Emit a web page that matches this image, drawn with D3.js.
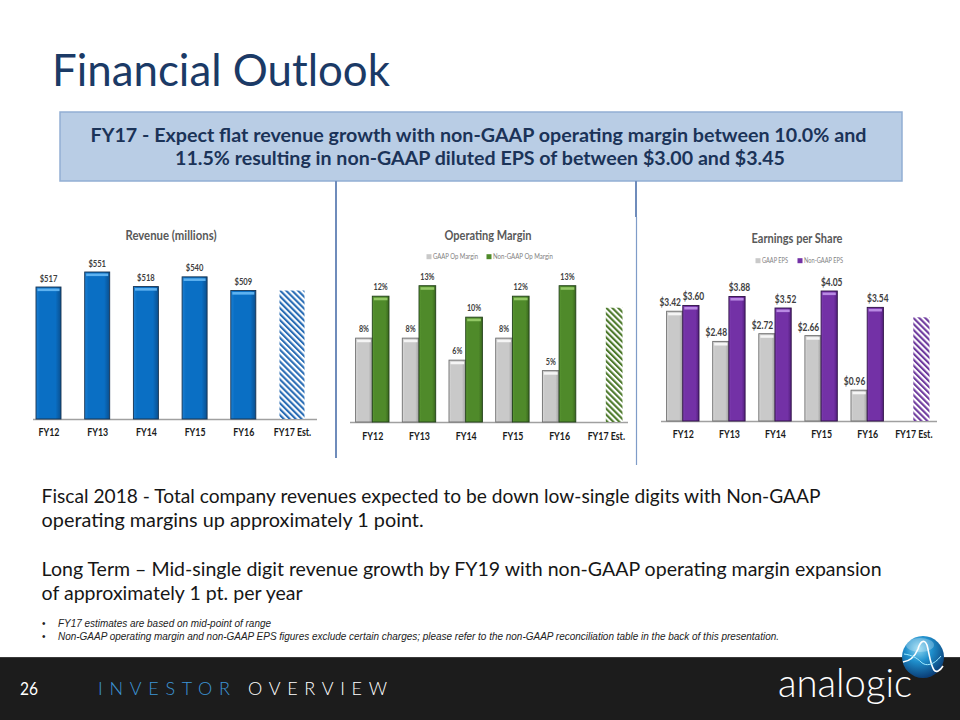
<!DOCTYPE html>
<html><head><meta charset="utf-8">
<script src="https://cdn.jsdelivr.net/npm/d3@7"></script>
<style>body{margin:0;background:#fff}svg{display:block}</style>
</head><body>
<svg id="c" width="960" height="720"></svg>
<script>
// ---------------- DATA ----------------
const years = ["FY12","FY13","FY14","FY15","FY16","FY17 Est."];
const revenue = [517,551,518,540,509];
const revenueEst = 509;
const gaapOpMargin = [8.0,8.0,5.9,8.0,4.9];
const nonGaapOpMargin = [12.0,13.0,10.0,12.0,13.0];
const opMarginEst = 10.9;
const gaapEps = [3.42,2.48,2.72,2.66,0.96];
const nonGaapEps = [3.60,3.88,3.52,4.05,3.54];
const epsEst = 3.23;
const titleText = "Financial Outlook";
const headline = ["FY17 - Expect flat revenue growth with non-GAAP operating margin between 10.0% and",
                  "11.5% resulting in non-GAAP diluted EPS of between $3.00 and $3.45"];
const bodyLines = ["Fiscal 2018 - Total company revenues expected to be down low-single digits with Non-GAAP",
                   "operating margins up approximately 1 point.",
                   "Long Term \u2013 Mid-single digit revenue growth by FY19 with non-GAAP operating margin expansion",
                   "of approximately 1 pt. per year"];
const footnotes = ["FY17 estimates are based on mid-point of range",
                   "Non-GAAP operating margin and non-GAAP EPS figures exclude certain charges; please refer to the non-GAAP reconciliation table in the back of this presentation."];

// ---------------- SETUP ----------------
const F_BODY = "Lato, 'Open Sans', sans-serif";
const F_NARROW = "Lato, 'Open Sans', sans-serif";
const svg = d3.select("#c");
const defs = svg.append("defs");

function condense(sel, k) {
  sel.each(function() {
    const w = this.getComputedTextLength();
    d3.select(this).attr("textLength", w * k).attr("lengthAdjust", "spacingAndGlyphs");
  });
  return sel;
}

const styles = {
  blue:   {main:"#0a6fc4", light:"#1b7fd2", edge:"#0a4f8f", stroke:"#17324f", hi:"#5eb2f0"},
  gray:   {main:"#c9c9c9", light:"#dadada", edge:"#9e9e9e", stroke:"#6e6e6e", hi:"#f5f5f5"},
  green:  {main:"#4f8a2a", light:"#5b9833", edge:"#39661d", stroke:"#22401a", hi:"#93c866"},
  purple: {main:"#7331a6", light:"#8040b3", edge:"#531f7d", stroke:"#2e1246", hi:"#b98ae3"}
};
Object.entries(styles).forEach(([k,s]) => {
  const lg = defs.append("linearGradient").attr("id","g-"+k).attr("x1",0).attr("x2",1).attr("y1",0).attr("y2",0);
  [[0,s.light],[0.15,s.main],[0.78,s.main],[1,s.edge]].forEach(([o,c]) =>
    lg.append("stop").attr("offset",o).attr("stop-color",c));
});
const hatchColors = {blue:"#2a6db5", green:"#4d7a2c", purple:"#6e3a9e"};
Object.entries(hatchColors).forEach(([k,c]) => {
  const p = defs.append("pattern").attr("id","h-"+k).attr("patternUnits","userSpaceOnUse")
    .attr("width",4.2).attr("height",4.2).attr("patternTransform","rotate(-45)");
  p.append("rect").attr("width",4.2).attr("height",4.2).attr("fill","#fff");
  p.append("rect").attr("width",2.1).attr("height",4.2).attr("fill",c);
});

function drawBar(g, cx, w, yTop, yBase, style) {
  const s = styles[style];
  g.append("rect").attr("x",cx-w/2).attr("y",yTop).attr("width",w).attr("height",yBase-yTop)
    .attr("fill","url(#g-"+style+")").attr("stroke",s.stroke).attr("stroke-width",0.9);
  g.append("rect").attr("x",cx-w/2+1.5).attr("y",yTop+1.5).attr("width",w-3).attr("height",2.6).attr("fill",s.hi);
}

function drawChart(c) {
  const g = svg.append("g");
  const x = d3.scalePoint().domain(years).range(c.xRange).padding(0.5);
  const y = d3.scaleLinear().domain(c.yDomain).range([c.base, c.top]);
  g.append("text").text(c.title).attr("x",c.titleX).attr("y",c.titleY).attr("text-anchor","middle")
    .attr("font-family",F_NARROW).attr("font-weight","bold").attr("font-size",c.titleSize)
    .attr("textLength",c.titleW).attr("lengthAdjust","spacingAndGlyphs").attr("fill","#595959");
  (c.legend||[]).forEach(l => {
    g.append("rect").attr("x",l.x-2.5).attr("y",c.legendY-2.5).attr("width",5).attr("height",5)
      .attr("fill",styles[l.style].main);
    g.append("text").text(l.label).attr("x",l.x+4).attr("y",c.legendY+2.6)
      .attr("font-family",F_NARROW).attr("font-size",7.6).attr("fill","#7f7f7f")
      .attr("textLength",l.w).attr("lengthAdjust","spacingAndGlyphs");
  });
  g.append("line").attr("x1",c.axisX[0]).attr("x2",c.axisX[1]).attr("y1",c.base+0.5).attr("y2",c.base+0.5)
    .attr("stroke","#a0a0a0").attr("stroke-width",1.3);
  c.series.forEach(s => {
    s.values.forEach((v,i) => {
      const cx = x(years[i]) + s.offset;
      drawBar(g, cx, c.barW, y(v), c.base, s.style);
      const t = g.append("text").text(c.fmt(v)).attr("x",cx + (s.labelDx||0)).attr("y",y(v)-c.labelGap)
        .attr("text-anchor","middle").attr("font-family",F_NARROW).attr("font-weight","bold")
        .attr("font-size",c.labelSize).attr("fill","#404040");
      condense(t, 0.8);
    });
  });
  const ex = x(years[5]) + c.est.offset;
  g.append("rect").attr("x",ex-c.barW/2).attr("y",y(c.est.value)).attr("width",c.barW)
    .attr("height",c.base-y(c.est.value)).attr("fill","url(#h-"+c.est.style+")");
  const ax = g.append("g").attr("transform",`translate(0,${c.base})`)
    .call(d3.axisBottom(x).tickSize(0).tickPadding(c.tickPad));
  ax.select(".domain").remove();
  condense(ax.selectAll("text").attr("font-family",F_NARROW).attr("font-weight","bold")
    .attr("font-size",10.5).attr("fill","#1a1a1a"), 0.84);
}

// ---------------- HEADER ----------------
svg.append("text").text(titleText).attr("x",52).attr("y",86).attr("font-family",F_BODY)
  .attr("font-size",44).attr("fill","#1b3a66").attr("textLength",338).attr("lengthAdjust","spacingAndGlyphs");
svg.append("rect").attr("x",60).attr("y",112).attr("width",842).attr("height",69)
  .attr("fill","#b9cde5").attr("stroke","#92aed3").attr("stroke-width",1.5);
[[478.5,142,776],[480,165,610]].forEach(([hx,hy,hw],i) =>
  svg.append("text").text(headline[i]).attr("x",hx).attr("y",hy).attr("text-anchor","middle")
    .attr("font-family",F_BODY).attr("font-weight","bold").attr("font-size",18.5).attr("fill","#1b3358")
    .attr("textLength",hw).attr("lengthAdjust","spacingAndGlyphs"));

// separators
svg.append("line").attr("x1",336).attr("x2",336).attr("y1",181).attr("y2",458).attr("stroke","#6f8cbb").attr("stroke-width",2);
svg.append("line").attr("x1",636).attr("x2",636).attr("y1",181).attr("y2",217).attr("stroke","#6f8cbb").attr("stroke-width",2);
svg.append("line").attr("x1",636.5).attr("x2",636.5).attr("y1",217).attr("y2",465).attr("stroke","#7f9cc8").attr("stroke-width",1.2);

// ---------------- CHARTS ----------------
drawChart({
  title:"Revenue (millions)", titleX:171, titleY:239.5, titleSize:12.5, titleW:91,
  xRange:[24.15,316.35], yDomain:[218,551], base:419, top:272, barW:25,
  axisX:[33,317], tickPad:10, labelGap:5.5, labelSize:9.5, fmt:v=>"$"+v,
  series:[{values:revenue, style:"blue", offset:0}],
  est:{value:revenueEst, style:"blue", offset:0}
});
drawChart({
  title:"Operating Margin", titleX:488, titleY:240, titleSize:14, titleW:87,
  legendY:256.7, legend:[{x:429,style:"gray",label:"GAAP Op Margin",w:45},{x:489,style:"green",label:"Non-GAAP Op Margin",w:60}],
  xRange:[348.95,629.15], yDomain:[0,13], base:422, top:285.7, barW:16.7,
  axisX:[350,628], tickPad:11, labelGap:6, labelSize:9, fmt:v=>d3.format(".0f")(v)+"%",
  series:[{values:gaapOpMargin, style:"gray", offset:-8.35},{values:nonGaapOpMargin, style:"green", offset:8.35}],
  est:{value:opMarginEst, style:"green", offset:8.35}
});
drawChart({
  title:"Earnings per Share", titleX:797, titleY:243, titleSize:14, titleW:91,
  legendY:260.7, legend:[{x:758,style:"gray",label:"GAAP EPS",w:26},{x:800,style:"purple",label:"Non-GAAP EPS",w:39}],
  xRange:[659.75,936.35], yDomain:[0,4.05], base:421, top:291, barW:16.2,
  axisX:[661,937], tickPad:10, labelGap:5, labelSize:10.5, fmt:v=>"$"+d3.format(".2f")(v),
  series:[{values:gaapEps, style:"gray", offset:-8.1, labelDx:-4.5},{values:nonGaapEps, style:"purple", offset:8.1, labelDx:2.5}],
  est:{value:epsEst, style:"purple", offset:8.1}
});

// ---------------- BODY TEXT ----------------
[[503,779],[526.5,382],[576,840],[600,261]].forEach(([by,bw],i) =>
  svg.append("text").text(bodyLines[i]).attr("x",41.6).attr("y",by).attr("font-family",F_BODY)
    .attr("font-size",19).attr("fill","#161616").attr("textLength",bw).attr("lengthAdjust","spacingAndGlyphs"));
[[627,213],[640,721]].forEach(([fy,fw],i) => {
  svg.append("text").text("\u2022").attr("x",42).attr("y",fy).attr("font-family","'Liberation Sans', Arial, sans-serif")
    .attr("font-size",10).attr("fill","#222");
  svg.append("text").text(footnotes[i]).attr("x",58).attr("y",fy).attr("font-family","'Liberation Sans', Arial, sans-serif")
    .attr("font-style","italic").attr("font-size",10.5).attr("fill","#222")
    .attr("textLength",fw).attr("lengthAdjust","spacingAndGlyphs");
});

// ---------------- FOOTER ----------------
svg.append("rect").attr("x",0).attr("y",657).attr("width",960).attr("height",63).attr("fill","#1c1c1c");
svg.append("line").attr("x1",0).attr("x2",960).attr("y1",657.5).attr("y2",657.5).attr("stroke","#3a3a3a");
svg.append("text").text("26").attr("x",20).attr("y",695).attr("font-family",F_BODY).attr("font-size",18)
  .attr("fill","#fff").attr("textLength",18).attr("lengthAdjust","spacingAndGlyphs");
svg.append("text").text("INVESTOR").attr("x",98).attr("y",695).attr("font-family",F_BODY).attr("font-weight",300)
  .attr("font-size",18).attr("fill","#3d95d6").attr("textLength",132).attr("lengthAdjust","spacing");
svg.append("text").text("OVERVIEW").attr("x",248).attr("y",695).attr("font-family",F_BODY).attr("font-weight",300)
  .attr("font-size",18).attr("fill","#fff").attr("textLength",139).attr("lengthAdjust","spacing");
svg.append("text").text("analogic").attr("x",778).attr("y",697).attr("font-family",F_BODY).attr("font-weight",300)
  .attr("font-size",40).attr("fill","#fff").attr("textLength",134).attr("lengthAdjust","spacingAndGlyphs");

// globe
const rg = defs.append("radialGradient").attr("id","globe").attr("cx","40%").attr("cy","30%").attr("r","70%");
[[0,"#8fd8f2"],[0.45,"#1f8fcc"],[1,"#0b3f78"]].forEach(([o,c]) => rg.append("stop").attr("offset",o).attr("stop-color",c));
svg.append("circle").attr("cx",923).attr("cy",657).attr("r",21).attr("fill","url(#globe)");
svg.append("ellipse").attr("cx",920).attr("cy",645).attr("rx",14).attr("ry",7).attr("fill","#fff").attr("opacity",0.25);
svg.append("path").attr("d","M903,662 C911,661 915,656 918,649 C920,642 924,638 927,645 C929,652 930,664 934,670 C936,673 940,671 943,666")
  .attr("fill","none").attr("stroke","#fff").attr("stroke-width",1.6);
svg.append("path").attr("d","M904,654 C912,655 917,658 921,662 C926,667 934,665 941,656")
  .attr("fill","none").attr("stroke","#9eeaff").attr("stroke-width",1);
</script>
</body></html>
